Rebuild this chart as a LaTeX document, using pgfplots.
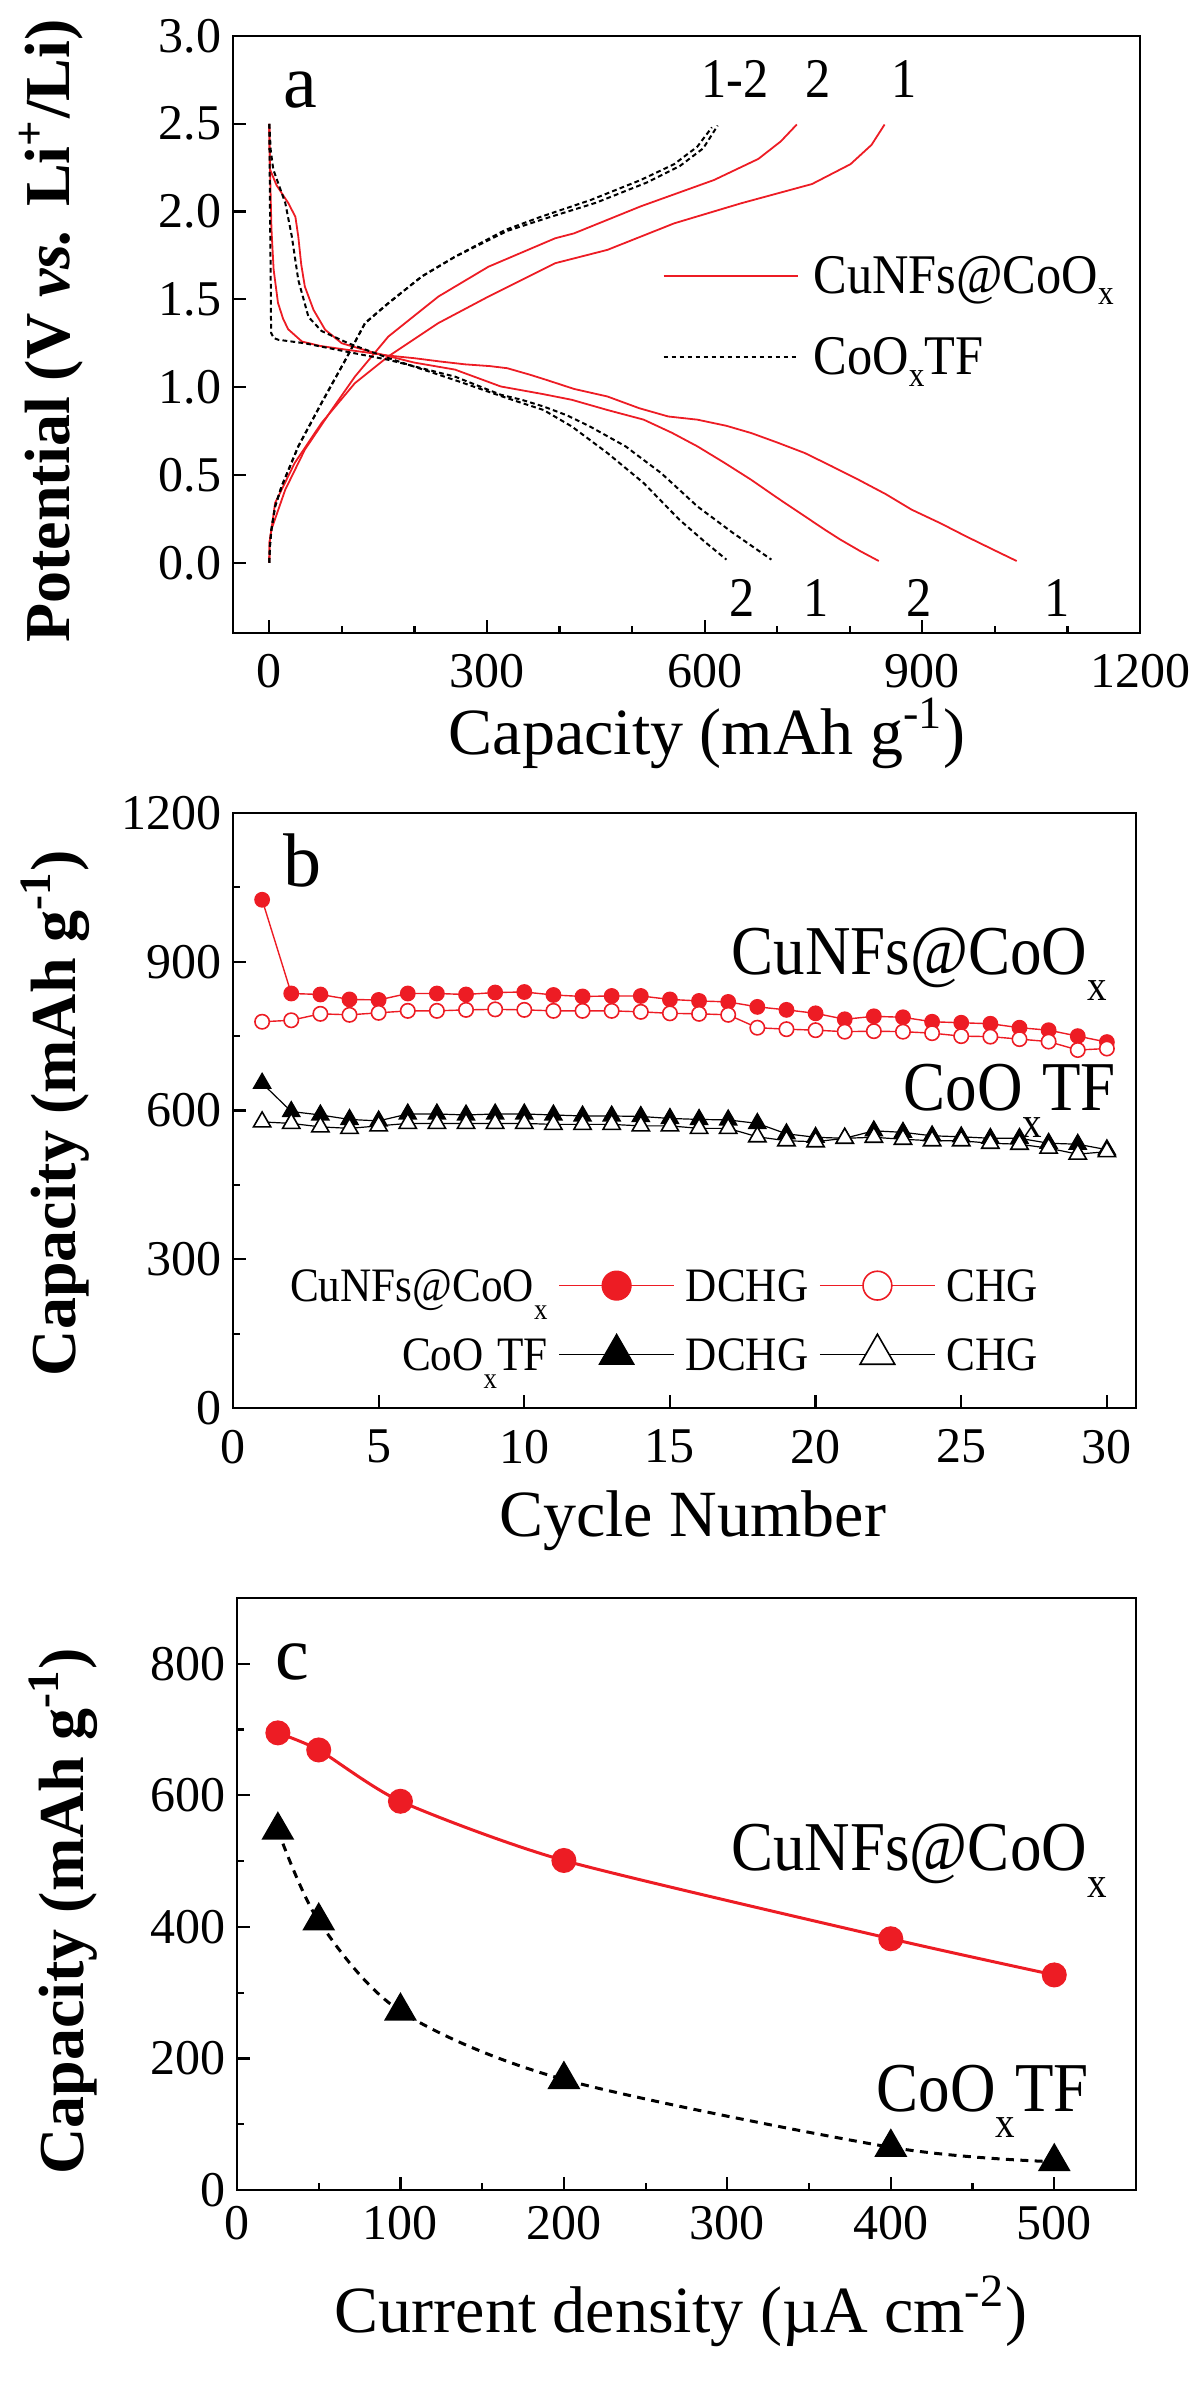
\documentclass[border=0pt]{standalone}
\usepackage{fontspec}
\setmainfont{Liberation Serif}
\newfontfamily\nfont{Liberation Serif}[FakeStretch=0.9]
\usepackage{pgfplots}
\pgfplotsset{compat=1.18}
\definecolor{myred}{RGB}{237,28,36}
\newcommand{\sx}{\raisebox{-0.38em}{\scalebox{0.62}{x}}}
\newcommand{\sxa}{\raisebox{-0.2em}{\scalebox{0.62}{x}}}
\pgfplotsset{
  fig/.style={
    scale only axis,
    anchor=south west,
    axis line style={line width=0.55pt},
    tick align=inside,
    xtick pos=left, ytick pos=left,
    major tick length=3.3pt, minor tick length=1.8pt,
    every tick/.style={black, line width=0.55pt},
    tick label style={font=\fontsize{12.5}{15}\selectfont},
    /pgf/number format/assume math mode=true,
    /pgf/number format/1000 sep={},
    scaled ticks=false,
    xticklabel style={inner sep=0pt, anchor=north},
    yticklabel style={inner sep=0pt, anchor=east, xshift=-2.75pt},
    xlabel style={font=\fontsize{16.5}{20}\selectfont, anchor=base, inner sep=0pt},
    ylabel style={font=\bfseries\fontsize{16}{19}\selectfont, anchor=center, inner sep=0pt},
  }
}
\begin{document}
\begin{tikzpicture}
\useasboundingbox (0,0) rectangle (300pt,-601.75pt);
% ---------------- panel a ----------------
\begin{axis}[fig,
  at={(58.25pt,-158.25pt)}, width=226.75pt, height=149.25pt,
  xmin=-50, xmax=1200, ymin=-0.4, ymax=3.0,
  xtick={0,300,...,1200}, minor x tick num=2,
  ytick={0,0.5,...,3.0},
  yticklabel style={/pgf/number format/.cd, fixed, fixed zerofill, precision=1},
  xticklabel style={yshift=-5.2pt},
  xlabel={Capacity (mAh g\textsuperscript{-1})},
  xlabel style={at={(axis description cs:0.523,-0.2027)}},
  ylabel={Potential (V \textit{vs.} Li\textsuperscript{+}/Li)},
  ylabel style={at={(axis description cs:-0.2002,0.506)}},
  legend image code/.code={\draw (0pt,0pt) -- (33.5pt,0pt);},
  legend cell align=left,
  legend style={draw=none, fill=none, inner sep=0pt, outer sep=0pt,
    at={(axis cs:542,1.403)}, anchor=west, column sep=3.75pt, row sep=11.4pt,
    font=\nfont\fontsize{14}{16}\selectfont,
    nodes={inner sep=0pt, text height=8.9pt, text depth=0pt}},
]
% red discharge 1 (long)
\addplot[myred, line width=0.45pt, forget plot] coordinates {
(0,2.5) (0.5,2.35) (1,2.24) (3,1.9) (6,1.67) (12,1.48) (19,1.39) (26,1.33) (45,1.26) (70,1.235) (95,1.22) (130,1.20) (164,1.18) (200,1.165) (236,1.146) (270,1.13) (304,1.12) (328,1.108) (360,1.07) (383,1.04) (420,0.99) (466,0.947) (510,0.88) (550,0.833) (590,0.815) (630,0.78) (664,0.739) (700,0.685) (738,0.625) (775,0.55) (812,0.473) (850,0.39) (885,0.303) (925,0.225) (960,0.151) (1000,0.07) (1030,0.01)};
% red discharge 2
\addplot[myred, line width=0.45pt, forget plot] coordinates {
(0,2.5) (0.5,2.35) (1,2.24) (10,2.15) (26,2.05) (36,1.97) (40,1.857) (44,1.70) (49,1.573) (61,1.44) (77,1.327) (100,1.25) (141,1.20) (200,1.14) (256,1.10) (319,1.004) (378,0.96) (417,0.928) (466,0.87) (516,0.815) (555,0.74) (590,0.663) (627,0.57) (664,0.473) (700,0.37) (738,0.265) (765,0.19) (787,0.132) (815,0.065) (840,0.01)};
% red charge 2
\addplot[myred, line width=0.45pt, forget plot] coordinates {
(0,0) (0.5,0.12) (3,0.19) (22,0.416) (49,0.644) (86,0.871) (118,1.06) (164,1.288) (233,1.516) (302,1.686) (394,1.848) (420,1.876) (512,2.03) (613,2.18) (674,2.30) (705,2.40) (727,2.496)};
% red charge 1
\addplot[myred, line width=0.45pt, forget plot] coordinates {
(0,0) (0.5,0.12) (3,0.19) (8,0.34) (35,0.568) (72,0.796) (118,1.023) (164,1.175) (233,1.365) (302,1.516) (394,1.706) (466,1.782) (558,1.933) (650,2.047) (748,2.157) (801,2.27) (830,2.38) (848,2.496)};
% black discharge 1
\addplot[black, line width=0.5pt, dash pattern=on 1.2pt off 0.8pt, forget plot] coordinates {
(0,2.5) (1,2.0) (2,1.6) (2.5,1.31) (6,1.28) (12.5,1.27) (49,1.25) (109,1.20) (164,1.156) (256,1.06) (319,0.957) (348,0.928) (378,0.89) (410,0.84) (442,0.776) (491,0.663) (540,0.511) (590,0.321) (639,0.17) (692,0.018)};
% black discharge 2
\addplot[black, line width=0.5pt, dash pattern=on 1.2pt off 0.8pt, forget plot] coordinates {
(0,2.5) (2,2.35) (5.5,2.24) (22,2.05) (31,1.86) (40,1.61) (54,1.40) (72,1.32) (109,1.25) (164,1.166) (256,1.04) (319,0.95) (348,0.91) (378,0.87) (417,0.776) (466,0.625) (516,0.454) (565,0.246) (600,0.12) (630,0.018)};
% black charge A
\addplot[black, line width=0.5pt, dash pattern=on 1.2pt off 0.8pt, forget plot] coordinates {
(0,0) (1,0.1) (3,0.19) (8,0.32) (17,0.435) (40,0.663) (72,0.91) (105,1.156) (132,1.365) (164,1.478) (210,1.63) (256,1.743) (325,1.895) (374,1.97) (443,2.066) (512,2.18) (558,2.27) (590,2.37) (610,2.48)};
% black charge B
\addplot[black, line width=0.5pt, dash pattern=on 1.2pt off 0.8pt, forget plot] coordinates {
(0,0) (1,0.1) (3,0.19) (8,0.32) (17,0.435) (40,0.663) (72,0.91) (105,1.156) (132,1.365) (164,1.478) (210,1.63) (256,1.743) (328,1.89) (380,1.96) (450,2.05) (520,2.165) (566,2.26) (598,2.36) (618,2.49)};
\addlegendimage{myred, line width=0.5pt}
\addlegendentry{CuNFs@CoO\sxa}
\addlegendimage{black, line width=0.5pt, dash pattern=on 1.2pt off 0.8pt}
\addlegendentry{CoO\sxa TF}
\node[anchor=base west, font=\fontsize{19}{22}\selectfont, inner sep=0pt] at (axis cs:19,2.595) {a};
\node[anchor=base, font=\nfont\fontsize{14}{16}\selectfont, inner sep=0pt] at (axis cs:642,2.652) {1-2};
\node[anchor=base, font=\nfont\fontsize{14}{16}\selectfont, inner sep=0pt] at (axis cs:756,2.652) {2};
\node[anchor=base, font=\nfont\fontsize{14}{16}\selectfont, inner sep=0pt] at (axis cs:875,2.652) {1};
\node[anchor=base, font=\nfont\fontsize{14}{16}\selectfont, inner sep=0pt] at (axis cs:652,-0.306) {2};
\node[anchor=base, font=\nfont\fontsize{14}{16}\selectfont, inner sep=0pt] at (axis cs:753,-0.306) {1};
\node[anchor=base, font=\nfont\fontsize{14}{16}\selectfont, inner sep=0pt] at (axis cs:896,-0.306) {2};
\node[anchor=base, font=\nfont\fontsize{14}{16}\selectfont, inner sep=0pt] at (axis cs:1086,-0.306) {1};
\end{axis}
% ---------------- panel b ----------------
\begin{axis}[fig,
  at={(58.25pt,-352pt)}, width=225.75pt, height=148.75pt,
  xmin=0, xmax=31, ymin=0, ymax=1200,
  xtick={0,5,...,30},
  ytick={0,300,...,1200}, minor y tick num=1,
  xticklabel style={yshift=-5.25pt},
  xlabel={Cycle Number},
  xlabel style={at={(axis description cs:0.509,-0.2151)}},
  ylabel={Capacity (mAh g\textsuperscript{-1})},
  ylabel style={at={(axis description cs:-0.1971,0.496)}},
  legend image code/.code={\draw[mark repeat=2,mark phase=2] plot coordinates {(0pt,0pt) (14.375pt,0pt) (28.75pt,0pt)};},
  legend columns=3,
  legend cell align=right,
  legend style={draw=none, fill=none, inner sep=0pt, outer sep=0pt,
    at={(axis cs:27.63,278.7)}, anchor=north east, column sep=2.75pt, row sep=8.2pt,
    font=\nfont\fontsize{12}{14}\selectfont,
    nodes={inner sep=0pt, text height=7.9pt, text depth=0pt}},
]
\addplot[myred, line width=0.35pt, mark=*, mark size=1.8pt, mark options={fill=myred, draw=myred}, forget plot] coordinates {
(1,1025) (2,836) (3,834) (4,824) (5,823) (6,836) (7,836) (8,834) (9,838) (10,839) (11,833) (12,830) (13,831) (14,831) (15,824) (16,821) (17,819) (18,809) (19,803) (20,796) (21,784) (22,790) (23,788) (24,779) (25,777) (26,775) (27,767) (28,762) (29,750) (30,738)};
\addplot[myred, line width=0.35pt, mark=*, mark size=1.8pt, mark options={fill=white, draw=myred, line width=0.4pt}, forget plot] coordinates {
(1,779) (2,782) (3,795) (4,793) (5,797) (6,801) (7,801) (8,803) (9,804) (10,803) (11,801) (12,801) (13,801) (14,799) (15,796) (16,795) (17,793) (18,767) (19,764) (20,762) (21,759) (22,760) (23,759) (24,756) (25,750) (26,749) (27,744) (28,739) (29,722) (30,725)};
\addplot[black, line width=0.3pt, mark=triangle*, mark size=2.5pt, mark options={fill=black}, forget plot] coordinates {
(1,655) (2,598) (3,591) (4,582) (5,579) (6,593) (7,593) (8,591) (9,593) (10,593) (11,591) (12,589) (13,589) (14,588) (15,584) (16,582) (17,581) (18,574) (19,553) (20,546) (21,544) (22,559) (23,556) (24,549) (25,547) (26,544) (27,544) (28,534) (29,532) (30,521)};
\addplot[black, line width=0.3pt, mark=triangle*, mark size=2.5pt, mark options={fill=white, line width=0.4pt}, forget plot] coordinates {
(1,577) (2,574) (3,567) (4,564) (5,569) (6,574) (7,574) (8,574) (9,574) (10,574) (11,572) (12,572) (13,572) (14,569) (15,569) (16,564) (17,564) (18,547) (19,539) (20,537) (21,544) (22,546) (23,542) (24,539) (25,539) (26,534) (27,532) (28,524) (29,512) (30,517)};
\addlegendimage{empty legend}
\addlegendentry{CuNFs@CoO\sx}
\addlegendimage{myred, line width=0.35pt, mark=*, mark size=3.6pt, mark options={fill=myred, draw=myred}}
\addlegendentry{DCHG}
\addlegendimage{myred, line width=0.35pt, mark=*, mark size=3.6pt, mark options={fill=white, draw=myred, line width=0.4pt}}
\addlegendentry{CHG}
\addlegendimage{empty legend}
\addlegendentry{CoO\sx TF}
\addlegendimage{black, line width=0.3pt, mark=triangle*, mark size=5pt, mark options={fill=black}}
\addlegendentry{DCHG}
\addlegendimage{black, line width=0.3pt, mark=triangle*, mark size=5pt, mark options={fill=white, line width=0.4pt}}
\addlegendentry{CHG}
\node[anchor=base west, font=\fontsize{19}{22}\selectfont, inner sep=0pt] at (axis cs:1.72,1050.8) {b};
\node[anchor=base west, font=\nfont\fontsize{17.5}{20}\selectfont, inner sep=0pt] at (axis cs:17.09,875.3) {CuNFs@CoO\sx};
\node[anchor=base west, font=\nfont\fontsize{17.5}{20}\selectfont, inner sep=0pt] at (axis cs:23.0,599.6) {CoO\sx TF};
\end{axis}
% ---------------- panel c ----------------
\begin{axis}[fig,
  at={(59.25pt,-547.5pt)}, width=224.75pt, height=148pt,
  xmin=0, xmax=550, ymin=0, ymax=900,
  xtick={0,100,...,500}, minor x tick num=1,
  ytick={0,200,...,800}, minor y tick num=1,
  xticklabel style={yshift=-3.9pt},
  xlabel={Current density (µA cm\textsuperscript{-2})},
  xlabel style={at={(axis description cs:0.494,-0.2399)}},
  ylabel={Capacity (mAh g\textsuperscript{-1})},
  ylabel style={at={(axis description cs:-0.1935,0.471)}},
]
\addplot[myred, line width=0.75pt, smooth, tension=0.4, mark=*, mark size=2.75pt, mark options={fill=myred, draw=myred, solid}] coordinates {
(25,695) (50,669) (100,591) (200,501) (400,382) (500,327)};
\addplot[black, line width=0.75pt, smooth, tension=0.5, dash pattern=on 2pt off 1.6pt, mark=triangle*, mark size=4pt, mark options={fill=black, solid}] coordinates {
(25,547) (50,409) (100,272) (200,168) (400,65) (500,43)};
\node[anchor=base west, font=\fontsize{19}{22}\selectfont, inner sep=0pt] at (axis cs:23.2,775.4) {c};
\node[anchor=base west, font=\nfont\fontsize{17.5}{20}\selectfont, inner sep=0pt] at (axis cs:302,485.6) {CuNFs@CoO\sx};
\node[anchor=base west, font=\nfont\fontsize{17.5}{20}\selectfont, inner sep=0pt] at (axis cs:391,120) {CoO\sx TF};
\end{axis}
\end{tikzpicture}
\end{document}
